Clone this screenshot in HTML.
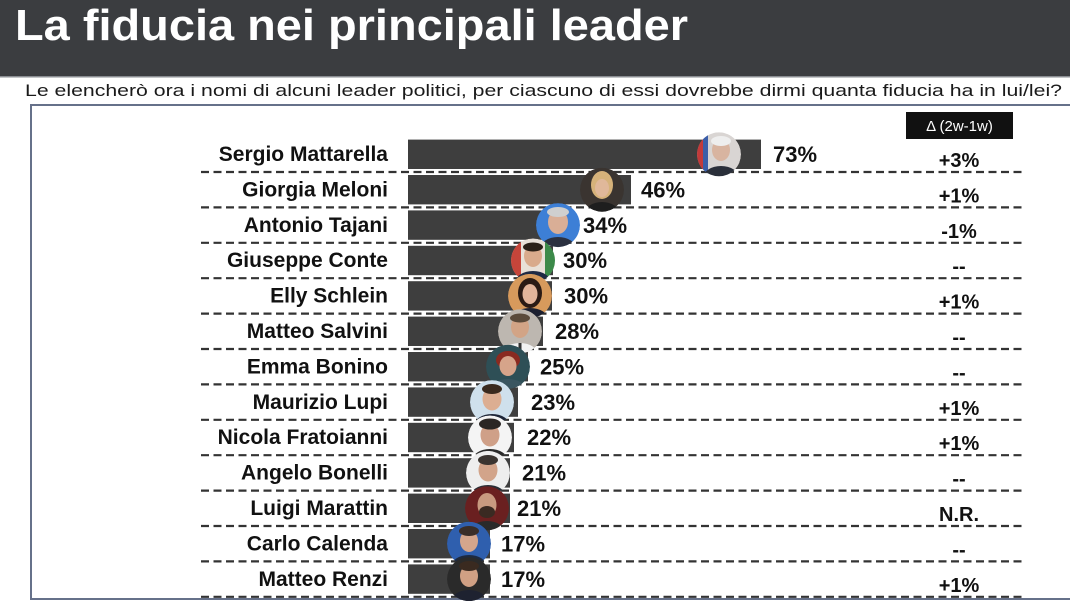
<!DOCTYPE html>
<html>
<head>
<meta charset="utf-8">
<style>
  html,body{margin:0;padding:0;background:#fff;}
  svg{display:block;}
  .nm{font-family:"Liberation Sans",Arial,sans-serif;font-weight:bold;font-size:21px;fill:#111;text-anchor:end;}
  .pc{font-family:"Liberation Sans",Arial,sans-serif;font-weight:bold;font-size:22px;fill:#111;}
  .dl{font-family:"Liberation Sans",Arial,sans-serif;font-weight:bold;font-size:20px;fill:#111;text-anchor:middle;}
</style>
</head>
<body>
<svg width="1070" height="601" viewBox="0 0 1070 601" xmlns="http://www.w3.org/2000/svg">
  <defs>
    <clipPath id="c0"><circle cx="719" cy="154.3" r="22"/></clipPath>
    <clipPath id="c1"><circle cx="602" cy="189.7" r="22"/></clipPath>
    <clipPath id="c2"><circle cx="558" cy="225.1" r="22"/></clipPath>
    <clipPath id="c3"><circle cx="533" cy="260.5" r="22"/></clipPath>
    <clipPath id="c4"><circle cx="530" cy="295.9" r="22"/></clipPath>
    <clipPath id="c5"><circle cx="520" cy="331.3" r="22"/></clipPath>
    <clipPath id="c6"><circle cx="508" cy="366.7" r="22"/></clipPath>
    <clipPath id="c7"><circle cx="492" cy="402.1" r="22"/></clipPath>
    <clipPath id="c8"><circle cx="490" cy="437.5" r="22"/></clipPath>
    <clipPath id="c9"><circle cx="488" cy="472.9" r="22"/></clipPath>
    <clipPath id="c10"><circle cx="487" cy="508.3" r="22"/></clipPath>
    <clipPath id="c11"><circle cx="469" cy="543.7" r="22"/></clipPath>
    <clipPath id="c12"><circle cx="469" cy="579.1" r="22"/></clipPath>
  </defs>

  <!-- Title bar -->
  <rect x="0" y="0" width="1070" height="77" fill="#3b3d40"/>
  <rect x="0" y="76" width="1070" height="1.5" fill="#8a8d92"/>
  <text x="15" y="40" font-family="Liberation Sans, Arial, sans-serif" font-weight="bold" font-size="44" fill="#ffffff" textLength="673" lengthAdjust="spacingAndGlyphs">La fiducia nei principali leader</text>

  <!-- Subtitle -->
  <text x="25" y="96" font-family="Liberation Sans, Arial, sans-serif" font-size="17" fill="#1a1a1a" textLength="1037" lengthAdjust="spacingAndGlyphs">Le elencherò ora i nomi di alcuni leader politici, per ciascuno di essi dovrebbe dirmi quanta fiducia ha in lui/lei?</text>

  <!-- Box -->
  <rect x="31" y="105" width="1060" height="494" fill="none" stroke="#66718a" stroke-width="2"/>

  <!-- Delta header -->
  <rect x="906" y="112" width="107" height="27" fill="#111"/>
  <text x="959.5" y="131" font-family="Liberation Sans, Arial, sans-serif" font-size="15" fill="#fff" text-anchor="middle">Δ (2w-1w)</text>

  <!-- Bars -->
  <g fill="#3e3e3e">
    <rect x="408" y="139.6" width="353" height="29.4"/>
    <rect x="408" y="175" width="223" height="29.4"/>
    <rect x="408" y="210.4" width="165" height="29.4"/>
    <rect x="408" y="245.8" width="145" height="29.4"/>
    <rect x="408" y="281.2" width="144" height="29.4"/>
    <rect x="408" y="316.6" width="135" height="29.4"/>
    <rect x="408" y="352" width="120" height="29.4"/>
    <rect x="408" y="387.4" width="110" height="29.4"/>
    <rect x="408" y="422.8" width="106" height="29.4"/>
    <rect x="408" y="458.2" width="102" height="29.4"/>
    <rect x="408" y="493.6" width="102" height="29.4"/>
    <rect x="408" y="529" width="82" height="29.4"/>
    <rect x="408" y="564.4" width="82" height="29.4"/>
  </g>

  <!-- Dashed lines -->
  <g stroke="#333" stroke-width="2.2" stroke-dasharray="8,4.5">
    <line x1="201" y1="172" x2="1022" y2="172"/>
    <line x1="201" y1="207.4" x2="1022" y2="207.4"/>
    <line x1="201" y1="242.8" x2="1022" y2="242.8"/>
    <line x1="201" y1="278.2" x2="1022" y2="278.2"/>
    <line x1="201" y1="313.6" x2="1022" y2="313.6"/>
    <line x1="201" y1="349" x2="1022" y2="349"/>
    <line x1="201" y1="384.4" x2="1022" y2="384.4"/>
    <line x1="201" y1="419.8" x2="1022" y2="419.8"/>
    <line x1="201" y1="455.2" x2="1022" y2="455.2"/>
    <line x1="201" y1="490.6" x2="1022" y2="490.6"/>
    <line x1="201" y1="526" x2="1022" y2="526"/>
    <line x1="201" y1="561.4" x2="1022" y2="561.4"/>
    <line x1="201" y1="596.8" x2="1022" y2="596.8"/>
  </g>

  <!-- Photos -->
  <g clip-path="url(#c0)">
    <circle cx="719" cy="154.3" r="22" fill="#d9d5d3"/>
    <rect x="697" y="132" width="6" height="45" fill="#c23a3a"/>
    <rect x="703" y="132" width="5" height="45" fill="#3b5ea8"/>
    <ellipse cx="721" cy="150" rx="9" ry="11" fill="#d8b4a0"/>
    <ellipse cx="721" cy="141" rx="10" ry="5" fill="#eeeeee"/>
    <ellipse cx="721" cy="178" rx="18" ry="12" fill="#2a2f3a"/>
  </g>
  <g clip-path="url(#c1)">
    <circle cx="602" cy="189.7" r="22" fill="#3a3430"/>
    <ellipse cx="602" cy="185" rx="11" ry="14" fill="#d6b27a"/>
    <ellipse cx="602" cy="188" rx="7" ry="9" fill="#e0b89a"/>
    <ellipse cx="602" cy="213" rx="17" ry="11" fill="#1e1e1e"/>
  </g>
  <g clip-path="url(#c2)">
    <circle cx="558" cy="225.1" r="22" fill="#3d7fd6"/>
    <ellipse cx="558" cy="222" rx="10" ry="12" fill="#d9ae96"/>
    <ellipse cx="558" cy="212" rx="11" ry="5" fill="#cfcfcf"/>
    <ellipse cx="558" cy="249" rx="18" ry="12" fill="#2b3140"/>
  </g>
  <g clip-path="url(#c3)">
    <circle cx="533" cy="260.5" r="22" fill="#e8e0d8"/>
    <rect x="511" y="238" width="10" height="45" fill="#c6453a"/>
    <rect x="545" y="238" width="10" height="45" fill="#3c8a4a"/>
    <ellipse cx="533" cy="256" rx="9" ry="11" fill="#d9aa8c"/>
    <ellipse cx="533" cy="247" rx="10" ry="4.5" fill="#2a2018"/>
    <ellipse cx="533" cy="283" rx="18" ry="12" fill="#1f2a44"/>
  </g>
  <g clip-path="url(#c4)">
    <circle cx="530" cy="295.9" r="22" fill="#d79a5c"/>
    <ellipse cx="530" cy="293" rx="12" ry="15" fill="#2a1a14"/>
    <ellipse cx="530" cy="294" rx="7.5" ry="10" fill="#e2b49a"/>
    <ellipse cx="530" cy="319" rx="18" ry="11" fill="#1c2030"/>
  </g>
  <g clip-path="url(#c5)">
    <circle cx="520" cy="331.3" r="22" fill="#bdb7b0"/>
    <ellipse cx="520" cy="327" rx="9" ry="11" fill="#d2a486"/>
    <ellipse cx="520" cy="318" rx="10" ry="4.5" fill="#5a4a3a"/>
    <ellipse cx="520" cy="355" rx="18" ry="12" fill="#f2f2f2"/>
    <rect x="518.5" y="343" width="3" height="12" fill="#333"/>
  </g>
  <g clip-path="url(#c6)">
    <circle cx="508" cy="366.7" r="22" fill="#2e4f56"/>
    <ellipse cx="508" cy="360" rx="12" ry="9" fill="#8a2a20"/>
    <ellipse cx="508" cy="366" rx="8.5" ry="10" fill="#d6a48a"/>
    <ellipse cx="508" cy="390" rx="18" ry="11" fill="#3a5560"/>
  </g>
  <g clip-path="url(#c7)">
    <circle cx="492" cy="402.1" r="22" fill="#cfe0ec"/>
    <ellipse cx="492" cy="399" rx="9.5" ry="11.5" fill="#dcae92"/>
    <ellipse cx="492" cy="389" rx="10" ry="5" fill="#3a2a1e"/>
    <ellipse cx="492" cy="426" rx="18" ry="12" fill="#1e2638"/>
  </g>
  <g clip-path="url(#c8)">
    <circle cx="490" cy="437.5" r="22" fill="#f4f4f4"/>
    <ellipse cx="490" cy="435" rx="9.5" ry="11.5" fill="#cfa088"/>
    <ellipse cx="490" cy="424" rx="11" ry="5.5" fill="#2a2624"/>
    <ellipse cx="490" cy="461" rx="18" ry="12" fill="#2a2a2a"/>
  </g>
  <g clip-path="url(#c9)">
    <circle cx="488" cy="472.9" r="22" fill="#eeeeee"/>
    <ellipse cx="488" cy="470" rx="9.5" ry="11.5" fill="#d2a48a"/>
    <ellipse cx="488" cy="460" rx="10" ry="5" fill="#3a3430"/>
    <ellipse cx="488" cy="497" rx="18" ry="12" fill="#2a2e36"/>
  </g>
  <g clip-path="url(#c10)">
    <circle cx="487" cy="508.3" r="22" fill="#6a2020"/>
    <ellipse cx="487" cy="505" rx="9.5" ry="12" fill="#c89a80"/>
    <ellipse cx="487" cy="512" rx="8" ry="6" fill="#3a2a22"/>
    <ellipse cx="487" cy="533" rx="18" ry="12" fill="#2a2a2a"/>
  </g>
  <g clip-path="url(#c11)">
    <circle cx="469" cy="543.7" r="22" fill="#2f5fae"/>
    <ellipse cx="469" cy="541" rx="9" ry="11" fill="#d4a68c"/>
    <ellipse cx="469" cy="531" rx="10" ry="5" fill="#3a2e28"/>
    <ellipse cx="469" cy="567" rx="18" ry="12" fill="#1e2a40"/>
  </g>
  <g clip-path="url(#c12)">
    <circle cx="469" cy="579.1" r="22" fill="#2a2a2a"/>
    <ellipse cx="469" cy="576" rx="9" ry="11" fill="#d0a084"/>
    <ellipse cx="469" cy="566" rx="10" ry="5" fill="#3a2a20"/>
    <ellipse cx="469" cy="602" rx="18" ry="12" fill="#1e2230"/>
  </g>

  <!-- Names -->
  <text class="nm" x="388" y="161">Sergio Mattarella</text>
  <text class="nm" x="388" y="196.4">Giorgia Meloni</text>
  <text class="nm" x="388" y="231.8">Antonio Tajani</text>
  <text class="nm" x="388" y="267.2">Giuseppe Conte</text>
  <text class="nm" x="388" y="302.6">Elly Schlein</text>
  <text class="nm" x="388" y="338">Matteo Salvini</text>
  <text class="nm" x="388" y="373.4">Emma Bonino</text>
  <text class="nm" x="388" y="408.8">Maurizio Lupi</text>
  <text class="nm" x="388" y="444.2">Nicola Fratoianni</text>
  <text class="nm" x="388" y="479.6">Angelo Bonelli</text>
  <text class="nm" x="388" y="515">Luigi Marattin</text>
  <text class="nm" x="388" y="550.4">Carlo Calenda</text>
  <text class="nm" x="388" y="585.8">Matteo Renzi</text>

  <!-- Values -->
  <text class="pc" x="773" y="162">73%</text>
  <text class="pc" x="641" y="197.4">46%</text>
  <text class="pc" x="583" y="232.8">34%</text>
  <text class="pc" x="563" y="268.2">30%</text>
  <text class="pc" x="564" y="303.6">30%</text>
  <text class="pc" x="555" y="339">28%</text>
  <text class="pc" x="540" y="374.4">25%</text>
  <text class="pc" x="531" y="409.8">23%</text>
  <text class="pc" x="527" y="445.2">22%</text>
  <text class="pc" x="522" y="480.6">21%</text>
  <text class="pc" x="517" y="516">21%</text>
  <text class="pc" x="501" y="551.4">17%</text>
  <text class="pc" x="501" y="586.8">17%</text>

  <!-- Delta values -->
  <text class="dl" x="959" y="167">+3%</text>
  <text class="dl" x="959" y="202.4">+1%</text>
  <text class="dl" x="959" y="237.8">-1%</text>
  <text class="dl" x="959" y="273.2">--</text>
  <text class="dl" x="959" y="308.6">+1%</text>
  <text class="dl" x="959" y="344">--</text>
  <text class="dl" x="959" y="379.4">--</text>
  <text class="dl" x="959" y="414.8">+1%</text>
  <text class="dl" x="959" y="450.2">+1%</text>
  <text class="dl" x="959" y="485.6">--</text>
  <text class="dl" x="959" y="521">N.R.</text>
  <text class="dl" x="959" y="556.4">--</text>
  <text class="dl" x="959" y="591.8">+1%</text>
</svg>
</body>
</html>
